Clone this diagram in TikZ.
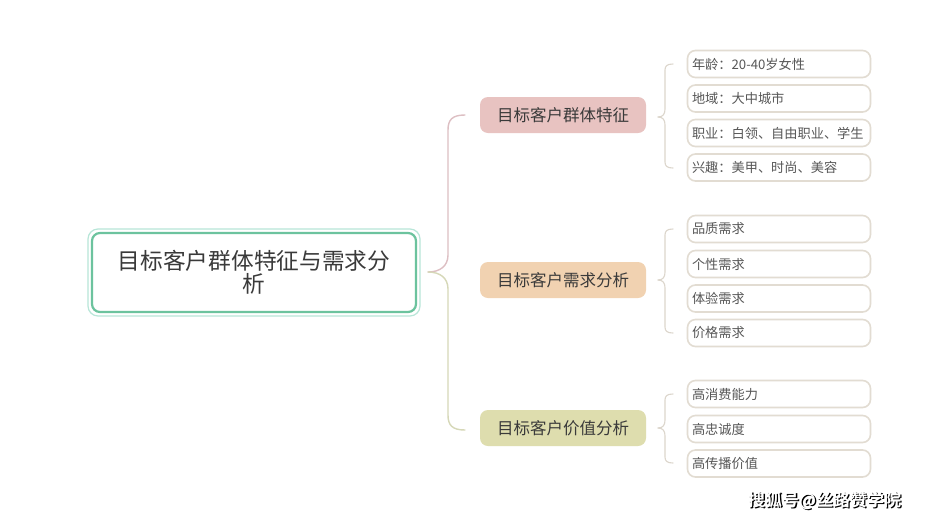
\documentclass[tikz,border=0pt]{standalone}
\usepackage{fontspec}
\setmainfont{Noto Sans CJK SC}
\newfontfamily\cjkb[BoldFont={Noto Sans CJK SC Bold}]{Noto Sans CJK SC}
\definecolor{txt}{HTML}{3A3A3A}
\definecolor{mainfill}{HTML}{FFFFFF}
\definecolor{maingreen}{HTML}{6CC39E}
\definecolor{mainouter}{HTML}{B8E6D8}
\definecolor{pinkfill}{HTML}{E8C3C1}
\definecolor{peachfill}{HTML}{F1D2B1}
\definecolor{olivefill}{HTML}{DEDDAE}
\definecolor{pinkline}{HTML}{DDBFC3}
\definecolor{oliveline}{HTML}{D6D8B8}
\definecolor{leafline}{HTML}{E2DCD2}
\definecolor{subline}{HTML}{DCD6CC}
\tikzset{
  mainbox/.style={draw=maingreen, line width=2.2pt, rounded corners=8pt, fill=mainfill,
    minimum width=324pt, minimum height=79pt, align=center, font=\fontsize{22.7}{25}\selectfont, text=txt},
  lvlbox/.style={rounded corners=8pt, minimum width=166pt, minimum height=36pt,
    font=\fontsize{16.5}{19}\selectfont, text=txt},
  leafbox/.style={draw=leafline, line width=1.6pt, rounded corners=8pt, fill=white,
    minimum width=183pt, minimum height=27pt, text width=174pt, align=left, inner xsep=4pt,
    font=\fontsize{13.2}{15}\selectfont, text=txt!85},
  brk/.style={line width=1.4pt, line cap=round}
}
\begin{document}
\begin{tikzpicture}[x=1pt,y=-1pt]
\useasboundingbox (0,0) rectangle (928,523);
\fill[white] (0,0) rectangle (928,523);
% main node
\draw[mainouter, line width=1.2pt, rounded corners=10pt] (88,229) rectangle (420,316);
\node[mainbox] (m) at (254,272.5) {目标客户群体特征与需求分\\[-2pt]析};
% level 1
\node[lvlbox, fill=pinkfill] (a) at (563,115) {目标客户群体特征};
\node[lvlbox, fill=peachfill] (b) at (563,280) {目标客户需求分析};
\node[lvlbox, fill=olivefill] (c) at (563,428) {目标客户价值分析};
% main bracket
\coordinate (cusp) at (428,272);
\draw[brk, pinkline] (cusp) .. controls (440,272) and (448,266) .. (448,255) -- (448,130)
  .. controls (448,120) and (452,115) .. (465,115);
\draw[brk, oliveline] (cusp) .. controls (440,272) and (448,278) .. (448,289) -- (448,415)
  .. controls (448,425) and (452,430) .. (465,430);
% leaves
\foreach \n/\y/\t in {a1/64/{年龄：20-40岁女性}, a2/98.5/{地域：大中城市}, a3/133/{职业：白领、自由职业、学生}, a4/167.5/{兴趣：美甲、时尚、美容},
  b1/229/{品质需求}, b2/264/{个性需求}, b3/298.5/{体验需求}, b4/333/{价格需求},
  c1/394/{高消费能力}, c2/429/{高忠诚度}, c3/463.5/{高传播价值}}
  \node[leafbox] (\n) at (779,\y) {\t};
% sub brackets
\foreach \p/\top/\mid/\bot in {a/64/117/168, b/229/280/333, c/394/428/463}{
  \draw[brk, subline, line width=1.1pt] (658,\mid) .. controls (663,\mid) and (665,\mid-3) .. (665,\mid-8) -- (665,\top+6)
    .. controls (665,\top+2) and (667,\top) .. (673,\top);
  \draw[brk, subline, line width=1.1pt] (658,\mid) .. controls (663,\mid) and (665,\mid+3) .. (665,\mid+8) -- (665,\bot-6)
    .. controls (665,\bot-2) and (667,\bot) .. (673,\bot);
}
% watermark
\node[font=\cjkb\bfseries\fontsize{17}{20}\selectfont, text=black] (wm0) at (825.8,501.8) {搜狐号@丝路赞学院};
\node[font=\cjkb\bfseries\fontsize{17}{20}\selectfont, text=white] (wm) at (824.5,500.5) {搜狐号@丝路赞学院};
\end{tikzpicture}
\end{document}
